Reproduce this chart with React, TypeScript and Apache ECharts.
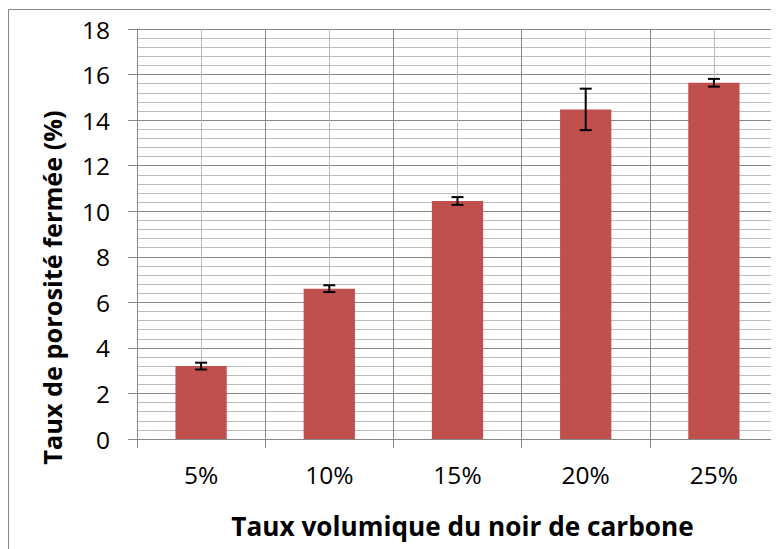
import React, { useEffect, useRef } from "react";
import * as echarts from "echarts";

const categories = ["5%", "10%", "15%", "20%", "25%"];
const values = [3.2, 6.6, 10.45, 14.47, 15.64];
const errors = [0.15, 0.15, 0.17, 0.91, 0.17];
const yTitle = "Taux de porosité fermée (%)";
const xTitle = "Taux volumique du noir de carbone";

const FONT = "Open Sans";
const AXIS = "#868686";
const MINOR = "#bcbcbc";

export default function App() {
  const ref = useRef<HTMLDivElement>(null);
  useEffect(() => {
    if (!ref.current) return;
    const chart = echarts.init(ref.current, undefined, { renderer: "svg" });
    const errData = values.map((v, i) => [i, v - errors[i], v + errors[i]]);
    chart.setOption({
      animation: false,
      grid: { left: 129, top: 21, right: 1, bottom: 110, containLabel: false },
      xAxis: [
        {
          type: "category",
          data: categories,
          position: "bottom",
          axisLine: { show: true, lineStyle: { color: AXIS, width: 1 } },
          axisTick: { show: true, length: 9, lineStyle: { color: AXIS } },
          axisLabel: { color: "#000", fontFamily: FONT, fontSize: 24.5, margin: 23 },
          splitLine: { show: false },
        },
        {
          type: "value",
          min: 0,
          max: 10,
          interval: 2,
          position: "bottom",
          axisLine: { show: false },
          axisTick: { show: false },
          axisLabel: { show: false },
          splitLine: { show: true, lineStyle: { color: AXIS, width: 1 } },
          minorTick: { show: false, splitNumber: 2 },
          minorSplitLine: { show: true, lineStyle: { color: MINOR, width: 1 } },
        },
      ],
      yAxis: {
        type: "value",
        min: 0,
        max: 18,
        interval: 2,
        axisLine: { show: true, lineStyle: { color: AXIS, width: 1 } },
        axisTick: { show: true, length: 9, lineStyle: { color: AXIS } },
        axisLabel: { color: "#000", fontFamily: FONT, fontSize: 24.5, margin: 27 },
        splitLine: { show: true, lineStyle: { color: AXIS, width: 1 } },
        minorTick: { show: false, splitNumber: 5 },
        minorSplitLine: { show: true, lineStyle: { color: MINOR, width: 1 } },
      },
      series: [
        {
          type: "bar",
          data: values,
          xAxisIndex: 0,
          barWidth: "40%",
          itemStyle: { color: "#c0504d" },
        },
        {
          type: "custom",
          xAxisIndex: 0,
          data: errData,
          z: 5,
          renderItem: (params: any, api: any) => {
            const i = api.value(0);
            const lo = api.coord([i, api.value(1)]);
            const hi = api.coord([i, api.value(2)]);
            const w = 6;
            const style = { stroke: "#000", lineWidth: 2 };
            return {
              type: "group",
              children: [
                { type: "line", shape: { x1: hi[0], y1: hi[1], x2: lo[0], y2: lo[1] }, style },
                { type: "line", shape: { x1: hi[0] - w, y1: hi[1], x2: hi[0] + w, y2: hi[1] }, style },
                { type: "line", shape: { x1: lo[0] - w, y1: lo[1], x2: lo[0] + w, y2: lo[1] }, style },
              ],
            };
          },
        },
      ],
      graphic: [
        { type: "line", shape: { x1: 0.5, y1: 1.5, x2: 0.5, y2: 541 }, style: { stroke: AXIS, lineWidth: 1 } },
        { type: "line", shape: { x1: 0.5, y1: 1.5, x2: 771, y2: 1.5 }, style: { stroke: AXIS, lineWidth: 1 } },
        {
          type: "text",
          x: 44,
          y: 279.5,
          rotation: Math.PI / 2,
          style: {
            text: yTitle,
            fontFamily: FONT,
            fontWeight: "bold",
            fontSize: 25.3,
            fill: "#000",
            textAlign: "center",
            textVerticalAlign: "middle",
          },
        },
        {
          type: "text",
          x: 454.5,
          y: 518,
          style: {
            text: xTitle,
            fontFamily: FONT,
            fontWeight: "bold",
            fontSize: 26.2,
            fill: "#000",
            textAlign: "center",
            textVerticalAlign: "middle",
          },
        },
      ],
    });
    return () => chart.dispose();
  }, []);
  return <div ref={ref} style={{ width: 771, height: 541 }} />;
}
